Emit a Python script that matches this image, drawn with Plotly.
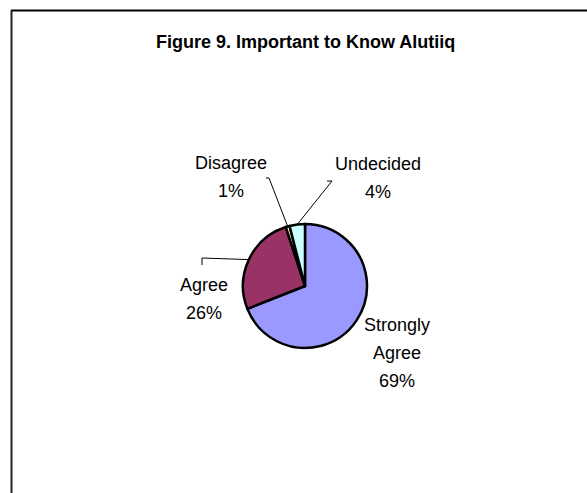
import math
import plotly.graph_objects as go

# Survey responses: "Important to Know Alutiiq"
categories = ["Strongly Agree", "Agree", "Disagree", "Undecided"]
percents = [69, 26, 1, 4]
label_lines = [["Strongly", "Agree"], ["Agree"], ["Disagree"], ["Undecided"]]
slice_colors = ["#9999FF", "#993366", "#FFFFCC", "#CCFFFF"]

W, H = 587, 493
CX, CY, R = 305, 286, 62  # pie centre and radius in page pixels

# label block placement (centre x, first line y) and leader-line elbows
label_pos = {
    "Strongly Agree": (397, 325),
    "Agree": (204, 285),
    "Disagree": (231, 163),
    "Undecided": (378, 164),
}
LINE_STEP = 28
leader_elbows = {
    "Agree": [(202, 265), (202, 258)],
    "Disagree": [(266, 178), (269, 178)],
    "Undecided": [(327, 181), (332, 181)],
}

fig = go.Figure()

fig.add_trace(go.Pie(
    labels=categories,
    values=percents,
    sort=False,
    direction="clockwise",
    rotation=0,
    textinfo="none",
    hoverinfo="label+percent",
    marker=dict(colors=slice_colors, line=dict(color="black", width=2.5)),
    domain=dict(x=[(CX - R) / W, (CX + R) / W],
                y=[1 - (CY + R) / H, 1 - (CY - R) / H]),
    showlegend=False,
))

# leader lines from each label to the middle of its slice's rim
total = sum(percents)
cum = 0
for cat, val in zip(categories, percents):
    mid = (cum + val / 2) / total * 2 * math.pi
    cum += val
    if cat not in leader_elbows:
        continue
    ex = CX + R * math.sin(mid)
    ey = CY - R * math.cos(mid)
    pts = leader_elbows[cat] + [(ex, ey)]
    fig.add_trace(go.Scatter(
        x=[p[0] for p in pts], y=[p[1] for p in pts],
        mode="lines", line=dict(color="black", width=1),
        hoverinfo="skip", showlegend=False,
    ))

annotations = []
for cat, val, lines in zip(categories, percents, label_lines):
    x0, y0 = label_pos[cat]
    for i, txt in enumerate(lines + [f"{val}%"]):
        annotations.append(dict(
            x=x0, y=y0 + i * LINE_STEP, xref="x", yref="y",
            text=txt, showarrow=False, xanchor="center", yanchor="middle",
            font=dict(family="Liberation Sans, Arial, sans-serif", size=18, color="black"),
        ))

annotations.append(dict(
    x=305, y=42, xref="x", yref="y",
    text="<b>Figure 9. Important to Know Alutiiq</b>",
    showarrow=False, xanchor="center", yanchor="middle",
    font=dict(family="Liberation Sans, Arial, sans-serif", size=18, color="black"),
))

# chart-area border (top and left edges fall inside the page)
shapes = [
    dict(type="line", xref="x", yref="y", x0=11, y0=10.5, x1=W, y1=10.5,
         line=dict(color="black", width=2)),
    dict(type="line", xref="x", yref="y", x0=11.5, y0=10, x1=11.5, y1=H,
         line=dict(color="#222222", width=2)),
]

fig.update_layout(
    width=W, height=H, autosize=False,
    margin=dict(l=0, r=0, t=0, b=0),
    paper_bgcolor="white", plot_bgcolor="white",
    xaxis=dict(range=[0, W], visible=False, fixedrange=True),
    yaxis=dict(range=[H, 0], visible=False, fixedrange=True),
    annotations=annotations,
    shapes=shapes,
)

fig.write_html("out.html")
